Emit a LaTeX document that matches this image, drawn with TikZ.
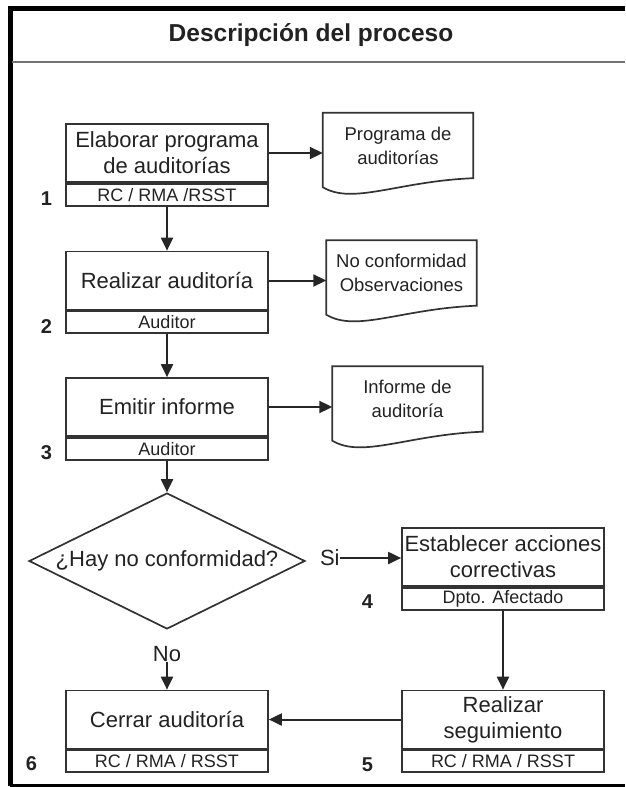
\documentclass[tikz,border=0pt]{standalone}
\usepackage{fontspec}
\setmainfont{Liberation Sans}
\usetikzlibrary{positioning,shapes.geometric,arrows.meta}
\definecolor{linegray}{HTML}{333333}
\definecolor{textgray}{HTML}{222222}
\tikzset{
  stepbox/.style={draw=linegray, line width=1.7pt, minimum width=202pt, minimum height=58pt,
    inner sep=1pt, align=center, font=\fontsize{22}{26}\selectfont, text=textgray},
  roleband/.style={draw=linegray, line width=1.7pt, minimum width=202pt, minimum height=22pt,
    inner sep=0pt, font=\fontsize{18}{18}\selectfont, text=textgray},
  docbox/.style={minimum width=150pt, minimum height=65pt, inner sep=0pt, align=center,
    font=\fontsize{18.5}{24}\selectfont, text=textgray},
  stepnum/.style={inner sep=0pt, font=\bfseries\fontsize{20}{20}\selectfont, text=textgray},
  flowlabel/.style={inner sep=0pt, font=\fontsize{22}{22}\selectfont, text=textgray},
  flow/.style={line width=2pt, draw=black!85, -{Triangle[length=13pt,width=12pt]}},
}
\begin{document}
\begin{tikzpicture}[x=1pt,y=-1pt]
\useasboundingbox (0,0) rectangle (625,787);

% frame and title
\draw[line width=5pt] (10,786) -- (10,8) -- (625,8);
\draw[line width=3pt] (10,785.5) -- (625,785.5);
\draw[line width=1.8pt, draw=black!55] (12,62) -- (625,62);
\node[font=\bfseries\fontsize{24.5}{24}\selectfont, text=textgray] (title) at (311,35) {Descripción del proceso};

% steps
\node[stepbox] (elab) at (167,153) {Elaborar programa\\de auditorías};
\node[roleband, below=0pt of elab] (elabr) {RC / RMA /RSST};
\node[stepbox] (audit) at (167,280.5) {Realizar auditoría};
\node[roleband, below=0pt of audit] (auditr) {Auditor};
\node[stepbox] (inform) at (167,407) {Emitir informe};
\node[roleband, below=0pt of inform] (informr) {Auditor};
\node[draw=linegray, line width=1.7pt, diamond, aspect=2.03, minimum width=276pt, minimum height=136pt,
  inner sep=0pt, font=\fontsize{22}{22}\selectfont, text=textgray] (hay) at (167,561) {¿Hay no conformidad?};
\node[stepbox] (accion) at (503,557) {Establecer acciones\\correctivas};
\node[roleband, below=0pt of accion] (accionr) {Dpto. Afectado};
\node[stepbox] (seguim) at (503,719.5) {Realizar\\seguimiento};
\node[roleband, below=0pt of seguim] (seguimr) {RC / RMA / RSST};
\node[stepbox] (cerrar) at (167,719.5) {Cerrar auditoría};
\node[roleband, below=0pt of cerrar] (cerrarr) {RC / RMA / RSST};

% step numbers
\node[stepnum, left=13pt of elabr.west, yshift=-4pt] (n1) {1};
\node[stepnum, left=13pt of auditr.west, yshift=-4pt] (n2) {2};
\node[stepnum, left=13pt of informr.west, yshift=-4pt] (n3) {3};
\node[stepnum, left=28pt of accionr.west, yshift=-3pt] (n4) {4};
\node[stepnum, left=28pt of seguimr.west, yshift=-4pt] (n5) {5};
\node[stepnum, left=28pt of cerrarr.west, yshift=-2pt] (n6) {6};

% documents
\node[docbox] (prog) at (398,145.5) {Programa de\\auditorías};
\node[docbox] (noconf) at (401.5,273) {No conformidad\\Observaciones};
\node[docbox] (infaud) at (407.5,399) {Informe de\\auditoría};
\foreach \d in {prog,noconf,infaud}
  \draw[draw=linegray, line width=1.7pt] ([yshift=-9pt]\d.south west) -- (\d.north west) -- (\d.north east)
    -- (\d.south east) .. controls +(-75,3) and +(30,18) .. ([yshift=-9pt]\d.south west) -- cycle;

% decision labels
\node[flowlabel, right=14pt of hay.east, yshift=3pt] (si) {Si};
\node[flowlabel, below=16pt of hay.south] (no) {No};

% connectors
\draw[flow] (elabr) -- (audit);
\draw[flow] (auditr) -- (inform);
\draw[flow] (informr) -- (hay);
\draw[flow] (elab.east) -- (elab.east -| prog.west);
\draw[flow] (audit.east) -- (audit.east -| noconf.west);
\draw[flow] (inform.east) -- (inform.east -| infaud.west);
\draw[flow] (si) -- (si -| accion.west);
\draw[flow] (no) -- (cerrar);
\draw[flow] (accionr) -- (seguim);
\draw[flow] (seguim) -- (cerrar);
\end{tikzpicture}
\end{document}
